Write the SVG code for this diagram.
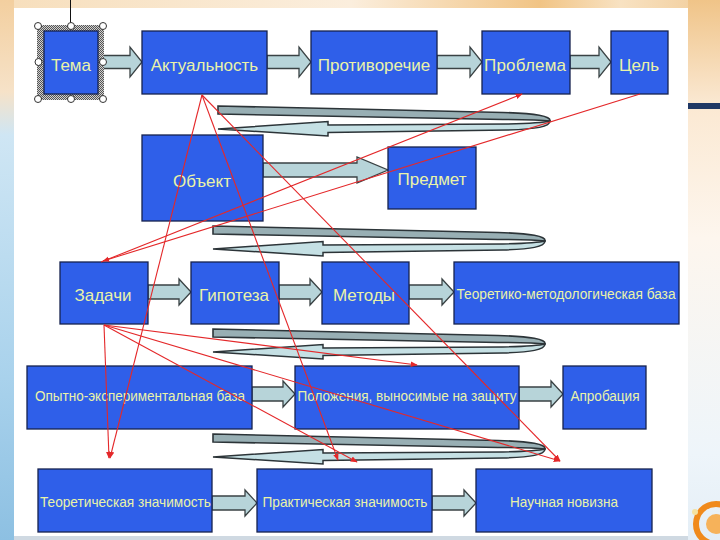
<svg xmlns="http://www.w3.org/2000/svg" xmlns:xlink="http://www.w3.org/1999/xlink" width="720" height="540" viewBox="0 0 720 540">
<defs>
<style>
.box{fill:#2f5fe9;stroke:#16224f;stroke-width:1.3}
.lbl{font-family:"Liberation Sans",Arial,sans-serif;font-size:17px;fill:#eaf3a8;text-anchor:middle}
.sm{font-size:15px}
.blk{fill:#b7d4d9;stroke:#3a4244;stroke-width:1.3;stroke-linejoin:miter}
.red{fill:none;stroke:#e4282a;stroke-width:1.1}
.hd{fill:#fff;stroke:#333;stroke-width:1}
</style>
<linearGradient id="gLeft" x1="0" y1="0" x2="0" y2="1">
<stop offset="0" stop-color="#f3cf9f"/><stop offset="0.17" stop-color="#f6e2c8"/><stop offset="0.25" stop-color="#cfe6f4"/><stop offset="0.7" stop-color="#a9d2ec"/><stop offset="1" stop-color="#8dc0e2"/>
</linearGradient>
<linearGradient id="gTop" x1="0" y1="0" x2="1" y2="0">
<stop offset="0" stop-color="#f7dfbd"/><stop offset="0.5" stop-color="#fbeedd"/><stop offset="0.78" stop-color="#f1c485"/><stop offset="0.9" stop-color="#f8e2c2"/><stop offset="1" stop-color="#f3d2a4"/>
</linearGradient>
<linearGradient id="gRightTop" x1="0" y1="0" x2="0" y2="1">
<stop offset="0" stop-color="#f0c488"/><stop offset="1" stop-color="#fae8d2"/>
</linearGradient>
<linearGradient id="gRightBot" x1="0" y1="0" x2="0" y2="1">
<stop offset="0" stop-color="#fbe9d3"/><stop offset="0.3" stop-color="#fdf6ee"/><stop offset="0.8" stop-color="#eef5fa"/><stop offset="1" stop-color="#e4eef6"/>
</linearGradient>
<pattern id="hatch" width="2" height="2" patternUnits="userSpaceOnUse">
<rect width="2" height="2" fill="#d0d0d0"/><rect width="1" height="1" fill="#555"/><rect x="1" y="1" width="1" height="1" fill="#555"/>
</pattern>
<marker id="ah" viewBox="0 0 10 10" refX="9" refY="5" markerWidth="7" markerHeight="7" orient="auto" markerUnits="userSpaceOnUse">
<path d="M0,1 L10,5 L0,9 Z" fill="#e4282a"/>
</marker>
<g id="uturn">
<path d="M0,2 L285,8.5 C318,9.5 333,12 332,17 C324,16 300,15.5 285,15.5 L0,10 Z" fill="#98afb4" stroke="#2c3438" stroke-width="1.6"/>
<path d="M332,17 C332,23 318,25 290,26 L110,28.5 L110,32 L0,25 L110,17.5 L110,21 L290,20 C310,19.5 326,18.5 332,17 Z" fill="#c5e0e4" stroke="#2c3438" stroke-width="1.5"/>
</g>
</defs>

<g id="background">
<rect width="720" height="540" fill="#fbf1e4"/>
<rect x="0" y="0" width="14" height="540" fill="url(#gLeft)"/>
<rect x="14" y="0" width="674" height="8" fill="url(#gTop)"/>
<rect x="688" y="0" width="32" height="103" fill="url(#gRightTop)"/>
<rect x="688" y="103" width="32" height="6" fill="#1f3864"/>
<rect x="688" y="109" width="32" height="431" fill="url(#gRightBot)"/>
<circle cx="716" cy="524" r="20" fill="none" stroke="#f08a1c" stroke-width="6"/>
<circle cx="716" cy="524" r="10" fill="#f6b25a"/>
<circle cx="695" cy="512" r="3" fill="#f5e2a0"/>
<rect x="14" y="8" width="674" height="528" fill="#ffffff"/>
<rect x="14" y="536" width="674" height="4" fill="#cfd9e2"/>
<line x1="70.5" y1="0" x2="70.5" y2="25" stroke="#111" stroke-width="1"/>
</g>

<g id="connectors">
<polygon class="blk" points="98,55.5 130,55.5 130,47 142,62 130,77 130,68.5 98,68.5"/>
<polygon class="blk" points="267,55.5 299,55.5 299,47 311,62 299,77 299,68.5 267,68.5"/>
<polygon class="blk" points="437,55.5 470,55.5 470,47 482,62 470,77 470,68.5 437,68.5"/>
<polygon class="blk" points="570,55.5 599,55.5 599,47 611,62 599,77 599,68.5 570,68.5"/>
<polygon class="blk" points="263,163 357,163 357,157 388,170 357,183 357,177 263,177"/>
<polygon class="blk" points="148,285 179,285 179,279 191,292 179,305 179,299 148,299"/>
<polygon class="blk" points="279,285 310,285 310,279 322,292 310,305 310,299 279,299"/>
<polygon class="blk" points="409,285 442,285 442,279 454,292 442,305 442,299 409,299"/>
<polygon class="blk" points="252,387 283,387 283,381 295,394 283,407 283,401 252,401"/>
<polygon class="blk" points="519,387 551,387 551,381 563,394 551,407 551,401 519,401"/>
<polygon class="blk" points="212,496 245,496 245,490 257,503 245,516 245,510 212,510"/>
<polygon class="blk" points="432,496 464,496 464,490 476,503 464,516 464,510 432,510"/>
<use xlink:href="#uturn" href="#uturn" x="218" y="104"/>
<use xlink:href="#uturn" href="#uturn" x="213" y="224"/>
<use xlink:href="#uturn" href="#uturn" x="213" y="327"/>
<use xlink:href="#uturn" href="#uturn" x="213" y="432"/>
</g>

<g id="n-tema">
<path d="M37,25 H104 V100 H37 Z M44,31 V94 H98 V31 Z" fill="url(#hatch)" fill-rule="evenodd"/>
<rect class="box" x="44" y="31" width="54" height="63"/>
<text class="lbl" x="71" y="71">Тема</text>
<circle class="hd" cx="38" cy="26" r="3.5"/><circle class="hd" cx="71" cy="26" r="3.5"/><circle class="hd" cx="103" cy="26" r="3.5"/>
<circle class="hd" cx="38.5" cy="62" r="3.5"/><circle class="hd" cx="103" cy="62" r="3.5"/>
<circle class="hd" cx="38" cy="99" r="3.5"/><circle class="hd" cx="71" cy="99" r="3.5"/><circle class="hd" cx="103" cy="99" r="3.5"/>
</g>
<g id="n-aktualnost"><rect class="box" x="142" y="31" width="125" height="63"/><text class="lbl" x="204.5" y="71">Актуальность</text></g>
<g id="n-protivorechie"><rect class="box" x="311" y="31" width="126" height="63"/><text class="lbl" x="374" y="71">Противоречие</text></g>
<g id="n-problema"><rect class="box" x="482" y="31" width="88" height="63"/><text class="lbl" x="525" y="71" textLength="82" lengthAdjust="spacing">Проблема</text></g>
<g id="n-cel"><rect class="box" x="611" y="31" width="57" height="63"/><text class="lbl" x="639" y="71">Цель</text></g>
<g id="n-obekt"><rect class="box" x="142" y="135" width="121" height="86"/><text class="lbl" x="202" y="187">Объект</text></g>
<g id="n-predmet"><rect class="box" x="388" y="147" width="88" height="62"/><text class="lbl" x="432" y="185">Предмет</text></g>
<g id="n-zadachi"><rect class="box" x="60" y="262" width="88" height="62"/><text class="lbl" x="103" y="301">Задачи</text></g>
<g id="n-gipoteza"><rect class="box" x="191" y="262" width="88" height="62"/><text class="lbl" x="234" y="301">Гипотеза</text></g>
<g id="n-metody"><rect class="box" x="322" y="262" width="87" height="62"/><text class="lbl" x="364" y="301">Методы</text></g>
<g id="n-teormetod"><rect class="box" x="454" y="262" width="225" height="62"/><text class="lbl" x="566" y="299" style="font-size:14px" textLength="219" lengthAdjust="spacingAndGlyphs">Теоретико-методологическая база</text></g>
<g id="n-opytno"><rect class="box" x="27" y="366" width="225" height="63"/><text class="lbl sm" x="140" y="401" textLength="210" lengthAdjust="spacingAndGlyphs">Опытно-экспериментальная база</text></g>
<g id="n-polozhenia"><rect class="box" x="295" y="366" width="224" height="63"/><text class="lbl sm" x="407" y="401" textLength="219" lengthAdjust="spacingAndGlyphs">Положения, выносимые на защиту</text></g>
<g id="n-aprobacia"><rect class="box" x="563" y="366" width="83" height="63"/><text class="lbl sm" x="605" y="401" textLength="69" lengthAdjust="spacingAndGlyphs">Апробация</text></g>
<g id="n-teorznach"><rect class="box" x="38" y="469" width="174" height="63"/><text class="lbl sm" x="125.5" y="507" textLength="171" lengthAdjust="spacingAndGlyphs">Теоретическая значимость</text></g>
<g id="n-praktznach"><rect class="box" x="257" y="469" width="175" height="63"/><text class="lbl sm" x="345" y="507" textLength="165" lengthAdjust="spacingAndGlyphs">Практическая значимость</text></g>
<g id="n-novizna"><rect class="box" x="476" y="469" width="176" height="63"/><text class="lbl sm" x="564" y="507" textLength="108" lengthAdjust="spacingAndGlyphs">Научная новизна</text></g>

<g id="links">
<line class="red" x1="101" y1="262" x2="522" y2="94" marker-end="url(#ah)"/>
<line class="red" x1="640" y1="94" x2="103" y2="261" marker-end="url(#ah)"/>
<line class="red" x1="202" y1="95" x2="110" y2="458" marker-end="url(#ah)"/>
<line class="red" x1="202" y1="95" x2="338" y2="460" marker-end="url(#ah)"/>
<line class="red" x1="202" y1="95" x2="560" y2="461" marker-end="url(#ah)"/>
<line class="red" x1="104" y1="325" x2="109" y2="458" marker-end="url(#ah)"/>
<line class="red" x1="104" y1="325" x2="417" y2="365" marker-end="url(#ah)"/>
<line class="red" x1="104" y1="325" x2="357" y2="462" marker-end="url(#ah)"/>
<line class="red" x1="104" y1="325" x2="560" y2="461" marker-end="url(#ah)"/>
</g>
</svg>
